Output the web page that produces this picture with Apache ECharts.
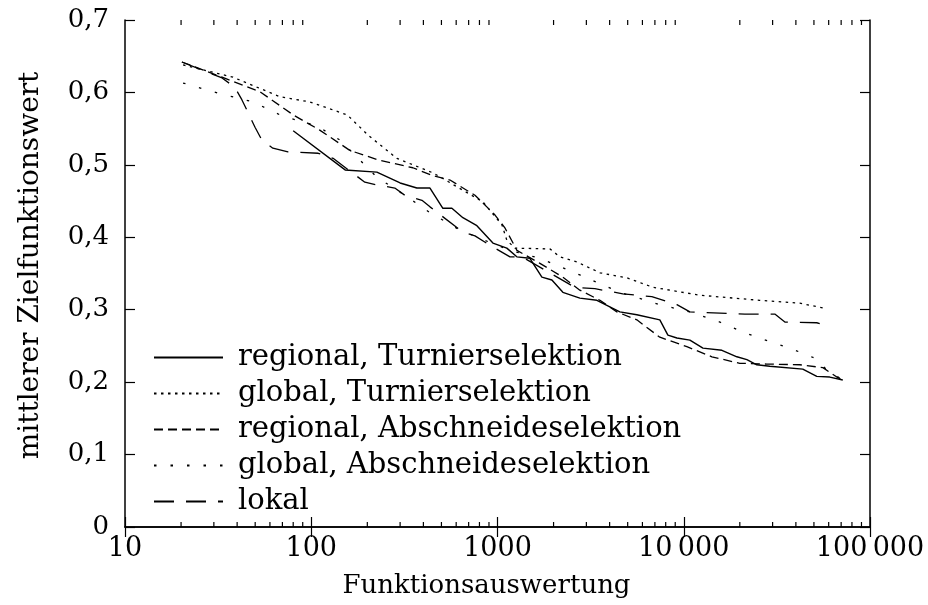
<!DOCTYPE html>
<html><head><meta charset="utf-8">
<script src="https://cdn.jsdelivr.net/npm/echarts@6/dist/echarts.min.js"></script>
<style>html,body{margin:0;padding:0;background:#fff}#c{width:928px;height:605px}</style>
</head><body><div id="c"></div>
<script>
const seriesNames = ['regional, Turnierselektion','global, Turnierselektion','regional, Abschneideselektion','global, Abschneideselektion','lokal'];
const yTicks = [0,0.1,0.2,0.3,0.4,0.5,0.6,0.7];
const xTicks = [10,100,1000,10000,100000];
const xMinorTicks = [20,30,40,50,60,70,80,90,200,300,400,500,600,700,800,900,2000,3000,4000,5000,6000,7000,8000,9000,20000,30000,40000,50000,60000,70000,80000,90000];

const regTurX = [80,152,225,300,369,434,509,569,652,775,945,1122,1270,1492,1731,1959,2244,2768,3418,4010,4540,5600,7440,8220,9190,10790,12680,16030,19290,21830,24670,28970,43560,51790,60800,71440];
const regTurY = [0.547,0.493,0.490,0.475,0.468,0.468,0.440,0.440,0.427,0.416,0.392,0.385,0.373,0.371,0.345,0.341,0.324,0.316,0.313,0.304,0.297,0.293,0.286,0.265,0.261,0.258,0.247,0.244,0.235,0.231,0.224,0.222,0.218,0.208,0.207,0.203];

const globTurX = [20.5,38,68,98,156,202,288,450,613,835,1057,1122,1240,1910,2163,2669,3548,4955,6823,12190,25600,41980,57150];
const globTurY = [0.638,0.621,0.594,0.587,0.569,0.541,0.509,0.489,0.469,0.449,0.417,0.396,0.385,0.384,0.373,0.366,0.351,0.344,0.331,0.320,0.313,0.309,0.302];

const regAbsX = [20.2,33.2,53,80,111,161,228,351,450,556,757,968,1096,1271,1690,2244,2768,3548,4375,5600,7440,10390,14160,20000,27920,41980,55850,66370,71440];
const regAbsY = [0.642,0.621,0.601,0.569,0.548,0.520,0.507,0.496,0.485,0.479,0.458,0.431,0.413,0.382,0.364,0.345,0.327,0.313,0.297,0.286,0.262,0.249,0.235,0.226,0.225,0.224,0.220,0.207,0.203];

const globAbsX = [20.5,31.6,48.6,70.5,107,143,225,318,434,628,910,1167,1690,2768,4540,7440,10790,15630,21290,29720,37150,50580,58610,71440];
const globAbsY = [0.613,0.599,0.587,0.567,0.554,0.534,0.483,0.458,0.434,0.410,0.393,0.382,0.371,0.348,0.324,0.307,0.297,0.283,0.268,0.255,0.247,0.233,0.217,0.203];

const lokalX = [20.2,33.2,38.9,42.4,49.9,54.4,62.2,75,109,131,194,228,281,318,393,434,652,757,910,1167,1352,2600,3334,4710,6740,9190,10790,21290,30830,34900,51790,57150];
const lokalY = [0.642,0.620,0.607,0.590,0.552,0.534,0.523,0.518,0.516,0.509,0.476,0.472,0.468,0.458,0.451,0.442,0.407,0.402,0.389,0.373,0.373,0.331,0.329,0.322,0.318,0.307,0.297,0.294,0.294,0.283,0.282,0.279];

const FONT = 'DejaVu Serif';
const zip = (xs, ys) => xs.map((x, i) => [x, ys[i]]);
const dashes = ['solid', [2.5, 4.5], [9, 5], [2.5, 14], [20, 12]];
const widths = [1.4, 1.3, 1.3, 1.3, 1.3];
const datas = [zip(regTurX, regTurY), zip(globTurX, globTurY), zip(regAbsX, regAbsY), zip(globAbsX, globAbsY), zip(lokalX, lokalY)];

function fmtX(v) {
  const s = String(Math.round(v));
  if (s.length <= 4) return s;
  return s.replace(/\B(?=(\d{3})+(?!\d))/g, '\u2009');
}
function fmtY(v) {
  if (Math.abs(v) < 1e-9) return '0';
  return v.toFixed(1).replace('.', ',');
}

const chart = echarts.init(document.getElementById('c'), null, {renderer: 'canvas'});
const axisLine = {show: true, lineStyle: {color: '#000', width: 1.5}};
const series = seriesNames.map((n, i) => ({
  name: n, type: 'line', data: datas[i], showSymbol: false, symbol: 'none',
  xAxisIndex: 0, yAxisIndex: 0, animation: false, z: 3,
  lineStyle: {color: '#000', width: widths[i], type: dashes[i]},
  itemStyle: {color: '#000'}
}));
series.push({
  type: 'custom', name: 'minorTicks', xAxisIndex: 0, yAxisIndex: 0, silent: true, animation: false,
  clip: false,
  data: xMinorTicks.map(v => [v]),
  renderItem: function (params, api) {
    const v = api.value(0);
    const b = api.coord([v, yTicks[0]]);
    const t = api.coord([v, yTicks[yTicks.length - 1]]);
    return {type: 'group', children: [
      {type: 'line', shape: {x1: b[0], y1: b[1], x2: b[0], y2: b[1] - 5}, style: {stroke: '#000', lineWidth: 1.2}},
      {type: 'line', shape: {x1: t[0], y1: t[1], x2: t[0], y2: t[1] + 5}, style: {stroke: '#000', lineWidth: 1.2}}
    ]};
  }
});

chart.setOption({
  animation: false,
  backgroundColor: '#fff',
  grid: {left: 125, right: 58, top: 20, bottom: 78, containLabel: false},
  legend: {
    data: seriesNames, orient: 'vertical', left: 153, top: 343, padding: 0,
    itemWidth: 69, itemHeight: 14, itemGap: 7,
    itemStyle: {opacity: 0, borderWidth: 0},
    textStyle: {fontFamily: FONT, fontSize: 29, color: '#000', padding: [0, 0, 0, 10]},
    inactiveColor: '#000', selectedMode: false
  },
  xAxis: [{
    type: 'log', logBase: 10, min: xTicks[0], max: xTicks[xTicks.length - 1],
    position: 'bottom',
    name: 'Funktionsauswertung', nameLocation: 'middle', nameGap: 46,
    nameTextStyle: {fontFamily: FONT, fontSize: 26, color: '#000', padding: [0, 22, 0, 0]},
    axisLine: axisLine,
    axisTick: {show: true, inside: true, length: 10, lineStyle: {color: '#000', width: 1.2}},
    axisLabel: {formatter: fmtX, fontFamily: FONT, fontSize: 27, color: '#000', margin: 8},
    splitLine: {show: false}, minorTick: {show: false}
  }, {
    type: 'log', logBase: 10, min: xTicks[0], max: xTicks[xTicks.length - 1],
    position: 'top',
    axisLine: axisLine,
    axisTick: {show: true, inside: true, length: 10, lineStyle: {color: '#000', width: 1.2}},
    axisLabel: {show: false}, splitLine: {show: false}
  }],
  yAxis: [{
    type: 'value', min: yTicks[0], max: yTicks[yTicks.length - 1], interval: 0.1,
    position: 'left',
    name: 'mittlerer Zielfunktionswert', nameLocation: 'middle', nameGap: 80, nameRotate: 90,
    nameTextStyle: {fontFamily: FONT, fontSize: 28, color: '#000', padding: [0, 0, 0, 16]},
    axisLine: axisLine,
    axisTick: {show: true, inside: true, length: 10, lineStyle: {color: '#000', width: 1.2}},
    axisLabel: {formatter: fmtY, fontFamily: FONT, fontSize: 26, color: '#000', margin: 16},
    splitLine: {show: false}
  }, {
    type: 'value', min: yTicks[0], max: yTicks[yTicks.length - 1], interval: 0.1,
    position: 'right',
    axisLine: axisLine,
    axisTick: {show: true, inside: true, length: 10, lineStyle: {color: '#000', width: 1.2}},
    axisLabel: {show: false}, splitLine: {show: false}
  }],
  series: series
});
</script></body></html>
